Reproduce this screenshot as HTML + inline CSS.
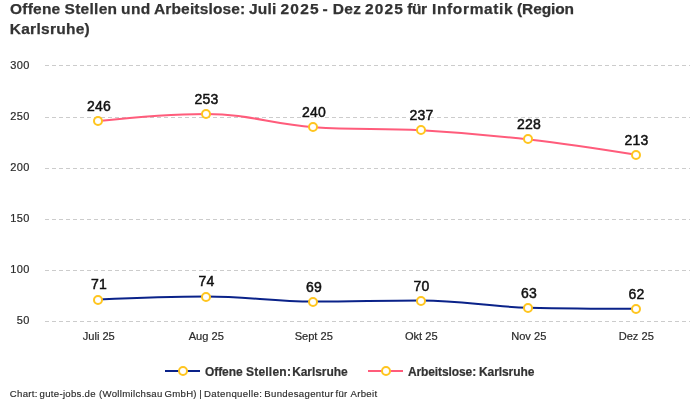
<!DOCTYPE html>
<html lang="de"><head><meta charset="utf-8"><title>Offene Stellen und Arbeitslose</title>
<style>
html,body{margin:0;padding:0;background:#fff;}
body{width:700px;height:400px;overflow:hidden;}
svg{display:block;font-family:"Liberation Sans",sans-serif;}
.title{font-weight:bold;font-size:15.5px;fill:#333;stroke:#333;stroke-width:0.25px;}
.ax{font-size:11px;fill:#2b2b2b;stroke:#2b2b2b;stroke-width:0.2px;letter-spacing:0.3px;}
.xl{font-size:11.1px;letter-spacing:0;}
.dl{font-size:14px;font-weight:normal;fill:#111;stroke:#111;stroke-width:0.48px;text-anchor:middle;letter-spacing:0.2px;}
.leg{font-size:12px;font-weight:bold;fill:#333;stroke:#333;stroke-width:0.2px;}
.foot{font-size:9.6px;fill:#2b2b2b;stroke:#2b2b2b;stroke-width:0.15px;}
.grid line{stroke:#cccccc;stroke-width:1;stroke-dasharray:4 3;}
.mk circle{fill:#fff;stroke:#ffc51f;stroke-width:2;}
</style></head><body>
<svg width="700" height="400" viewBox="0 0 700 400">
<defs><filter id="halo" color-interpolation-filters="sRGB" x="-20%" y="-20%" width="140%" height="140%"><feMorphology in="SourceAlpha" operator="dilate" radius="1" result="d"/><feFlood flood-color="#fff"/><feComposite in2="d" operator="in" result="w"/><feMerge><feMergeNode in="w"/><feMergeNode in="SourceGraphic"/></feMerge></filter></defs>
<rect width="700" height="400" fill="#fff"/>
<text class="title" y="14.1"><tspan x="10.02" style="letter-spacing:0.216px">Offene</tspan> <tspan x="64.56" style="letter-spacing:0.278px">Stellen</tspan> <tspan x="121.07" style="letter-spacing:0.357px">und</tspan> <tspan x="153.96" style="letter-spacing:0.159px">Arbeitslose:</tspan> <tspan x="249.00" style="letter-spacing:0.238px">Juli</tspan> <tspan x="280.52" style="letter-spacing:1.196px">2025</tspan> <tspan x="322.52" style="letter-spacing:0.000px">-</tspan> <tspan x="332.83" style="letter-spacing:0.295px">Dez</tspan> <tspan x="365.02" style="letter-spacing:1.130px">2025</tspan> <tspan x="407.26" style="letter-spacing:-0.450px">für</tspan> <tspan x="432.03" style="letter-spacing:0.638px">Informatik</tspan> <tspan x="517.07" style="letter-spacing:-0.135px">(Region</tspan></text>
<text class="title" y="33.8"><tspan x="9.73" style="letter-spacing:0.278px">Karlsruhe)</tspan></text>
<g class="grid">
<line x1="45" x2="690" y1="65.5" y2="65.5"/>
<line x1="45" x2="690" y1="117.5" y2="117.5"/>
<line x1="45" x2="690" y1="168.5" y2="168.5"/>
<line x1="45" x2="690" y1="219.5" y2="219.5"/>
<line x1="45" x2="690" y1="270.5" y2="270.5"/>
<line x1="45" x2="690" y1="321.5" y2="321.5"/>
</g>
<g class="ax">
<text x="29.6" y="69.1" text-anchor="end">300</text>
<text x="29.6" y="120.1" text-anchor="end">250</text>
<text x="29.6" y="171.1" text-anchor="end">200</text>
<text x="29.6" y="222.1" text-anchor="end">150</text>
<text x="29.6" y="273.1" text-anchor="end">100</text>
<text x="29.6" y="324.1" text-anchor="end">50</text>
<text class="xl" x="98.75" y="340" text-anchor="middle">Juli 25</text>
<text class="xl" x="206.25" y="340" text-anchor="middle">Aug 25</text>
<text class="xl" x="313.75" y="340" text-anchor="middle">Sept 25</text>
<text class="xl" x="421.25" y="340" text-anchor="middle">Okt 25</text>
<text class="xl" x="528.75" y="340" text-anchor="middle">Nov 25</text>
<text class="xl" x="636.25" y="340" text-anchor="middle">Dez 25</text>
</g>
<path d="M 98.75 299.58 C 98.75 299.58 163.25 296.52 206.25 296.52 C 249.25 296.52 270.75 301.62 313.75 301.62 C 356.75 301.62 378.25 300.60 421.25 300.60 C 464.25 300.60 485.75 306.72 528.75 307.74 C 571.75 308.76 636.25 308.76 636.25 308.76" fill="none" stroke="#0a2289" stroke-width="2" stroke-linecap="round" stroke-linejoin="round"/>
<g class="mk"><circle cx="98" cy="300" r="4"/><circle cx="206" cy="297" r="4"/><circle cx="313" cy="302" r="4"/><circle cx="421" cy="301" r="4"/><circle cx="528" cy="308" r="4"/><circle cx="636" cy="309" r="4"/></g>
<g filter="url(#halo)"><text class="dl" x="99.05" y="289.48">71</text><text class="dl" x="206.55" y="286.42">74</text><text class="dl" x="314.05" y="291.52">69</text><text class="dl" x="421.55" y="290.50">70</text><text class="dl" x="529.05" y="297.64">63</text><text class="dl" x="636.55" y="298.66">62</text></g>
<path d="M 98.75 121.08 C 98.75 121.08 163.25 113.94 206.25 113.94 C 249.25 113.94 270.75 124.14 313.75 127.20 C 356.75 130.26 378.25 127.81 421.25 130.26 C 464.25 132.71 485.75 134.54 528.75 139.44 C 571.75 144.34 636.25 154.74 636.25 154.74" fill="none" stroke="#ff5c7b" stroke-width="2" stroke-linecap="round" stroke-linejoin="round"/>
<g class="mk"><circle cx="98" cy="121" r="4"/><circle cx="206" cy="114" r="4"/><circle cx="313" cy="127" r="4"/><circle cx="421" cy="130" r="4"/><circle cx="528" cy="139" r="4"/><circle cx="636" cy="155" r="4"/></g>
<g filter="url(#halo)"><text class="dl" x="99.05" y="110.98">246</text><text class="dl" x="206.55" y="103.84">253</text><text class="dl" x="314.05" y="117.10">240</text><text class="dl" x="421.55" y="120.16">237</text><text class="dl" x="529.05" y="129.34">228</text><text class="dl" x="636.55" y="144.64">213</text></g>
<path d="M165 371H200" stroke="#0a2289" stroke-width="2"/>
<g class="mk"><circle cx="183" cy="371" r="4"/></g>
<text class="leg" y="375.5"><tspan x="205.05" style="letter-spacing:-0.096px">Offene</tspan> <tspan x="245.90" style="letter-spacing:0.243px">Stellen:</tspan> <tspan x="292.20" style="letter-spacing:-0.081px">Karlsruhe</tspan></text>
<path d="M368 371H403" stroke="#ff5c7b" stroke-width="2"/>
<g class="mk"><circle cx="386" cy="371" r="4"/></g>
<text class="leg" y="375.5"><tspan x="407.95" style="letter-spacing:-0.105px">Arbeitslose:</tspan> <tspan x="479.00" style="letter-spacing:-0.081px">Karlsruhe</tspan></text>
<text class="foot" y="397"><tspan x="9.85" style="letter-spacing:0.275px">Chart:</tspan> <tspan x="39.60" style="letter-spacing:0.287px">gute-jobs.de</tspan> <tspan x="98.95" style="letter-spacing:0.323px">(Wollmilchsau</tspan> <tspan x="164.55" style="letter-spacing:0.266px">GmbH)</tspan> <tspan x="199.25" style="letter-spacing:0.000px">|</tspan> <tspan x="204.05" style="letter-spacing:0.356px">Datenquelle:</tspan> <tspan x="264.25" style="letter-spacing:0.340px">Bundesagentur</tspan> <tspan x="335.50" style="letter-spacing:0.222px">für</tspan> <tspan x="350.50" style="letter-spacing:0.298px">Arbeit</tspan></text>
</svg>
</body></html>
